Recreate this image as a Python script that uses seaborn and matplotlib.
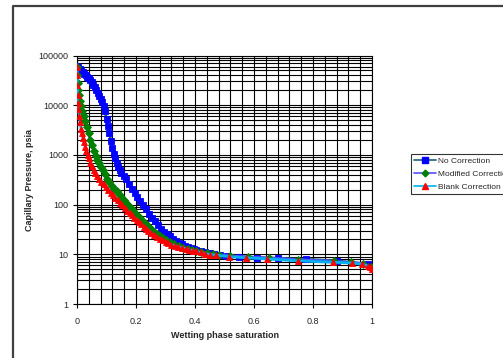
import numpy as np
import pandas as pd
import matplotlib
matplotlib.use("Agg")
import matplotlib.pyplot as plt
from matplotlib.lines import Line2D
from matplotlib.ticker import MultipleLocator, LogLocator, FixedLocator, NullFormatter
import seaborn as sns

# ---------------- data ----------------
no_corr_x = [0.000, 0.005, 0.010, 0.015, 0.020, 0.025, 0.030, 0.035, 0.040, 0.045,
             0.050, 0.055, 0.060, 0.065, 0.070, 0.075, 0.080, 0.085, 0.090, 0.095,
             0.100, 0.105, 0.110, 0.115, 0.120, 0.125, 0.130, 0.135, 0.140, 0.145,
             0.150, 0.158, 0.165, 0.175, 0.185, 0.195, 0.205, 0.215, 0.225, 0.235,
             0.245, 0.255, 0.265, 0.275, 0.285, 0.295, 0.305, 0.315, 0.325, 0.335,
             0.345, 0.355, 0.365, 0.375, 0.385, 0.395, 0.405, 0.420, 0.435, 0.450,
             0.465, 0.485, 0.510, 0.550, 0.610, 0.680, 0.775, 0.880, 0.985]
no_corr_y = [62000, 58000, 54000, 50000, 46000, 43000, 40000, 37000, 34500, 32000,
             29000, 26000, 23000, 20000, 17500, 15500, 13500, 11500, 9500, 7500,
             5200, 3800, 2700, 1900, 1400, 1050, 850, 700, 580, 490,
             430, 370, 320, 260, 210, 175, 145, 120, 98, 80,
             66, 55, 46, 39, 33, 28.5, 25.5, 23, 20.5, 18.5,
             17, 15.8, 14.8, 14, 13.4, 12.8, 12.2, 11.6, 11.1, 10.7,
             10.3, 9.8, 9.3, 9.0, 8.6, 8.3, 7.9, 7.4, 6.3]

mod_corr_x = [0.000, 0.001, 0.002, 0.004, 0.006, 0.010, 0.014, 0.018, 0.023, 0.028,
              0.033, 0.039, 0.045, 0.051, 0.057, 0.063, 0.068, 0.074, 0.080, 0.087,
              0.094, 0.102, 0.110, 0.118, 0.126, 0.134, 0.142, 0.150, 0.158, 0.166,
              0.174, 0.182, 0.190, 0.198, 0.206, 0.214, 0.222, 0.230, 0.238, 0.246,
              0.254, 0.262, 0.272, 0.282, 0.292, 0.302, 0.316, 0.330, 0.345, 0.360,
              0.375, 0.390, 0.405, 0.420, 0.440, 0.460, 0.480, 0.520, 0.580, 0.650,
              0.750, 0.870, 0.930, 0.970, 0.995]
mod_corr_y = [60000, 40000, 28000, 20000, 16000, 12000, 9500, 7500, 6000, 4700,
              3600, 2700, 2000, 1550, 1200, 950, 800, 680, 580, 490,
              410, 330, 280, 240, 210, 185, 162, 142, 125, 110,
              97, 86, 76, 67, 60, 53, 47, 42, 38, 34,
              31, 28.5, 26, 23.5, 21.5, 19.8, 18, 16.3, 14.8, 13.7,
              12.8, 12.1, 11.5, 11.0, 10.5, 10.1, 9.8, 9.3, 8.8, 8.4,
              7.8, 7.2, 6.9, 6.5, 5.5]

blank_corr_x = [0.000, 0.000, 0.001, 0.002, 0.003, 0.005, 0.008, 0.011, 0.014, 0.017,
                0.020, 0.024, 0.028, 0.032, 0.036, 0.040, 0.045, 0.050, 0.056, 0.062,
                0.068, 0.075, 0.082, 0.090, 0.098, 0.106, 0.114, 0.122, 0.130, 0.138,
                0.146, 0.154, 0.162, 0.170, 0.178, 0.186, 0.194, 0.202, 0.210, 0.218,
                0.226, 0.234, 0.242, 0.250, 0.260, 0.270, 0.280, 0.290, 0.300, 0.310,
                0.320, 0.332, 0.344, 0.356, 0.368, 0.380, 0.392, 0.404, 0.420, 0.434,
                0.452, 0.471, 0.515, 0.573, 0.643, 0.749, 0.868, 0.931, 0.965, 0.985,
                0.993, 0.999]
blank_corr_y = [60000, 40000, 25000, 16000, 11000, 8500, 6000, 4500, 3300, 2700,
                2200, 1800, 1450, 1200, 1000, 850, 700, 590, 500, 430,
                370, 320, 290, 260, 230, 200, 175, 155, 138, 122,
                108, 96, 85, 76, 69, 62, 55, 49, 44, 40,
                36, 33, 30, 27, 24.5, 22, 20.5, 19, 17.5, 16.5,
                15.5, 14.8, 14.2, 13.6, 13.0, 12.4, 11.9, 11.4, 10.9, 10.3,
                9.9, 9.6, 9.0, 8.5, 8.1, 7.4, 6.9, 6.7, 6.3, 5.9,
                5.5, 5.0]

series_names = ["No Correction", "Modified Correction", "Blank Correction"]
x_ticks = [0, 0.2, 0.4, 0.6, 0.8, 1]
x_tick_labels = ["0", "0.2", "0.4", "0.6", "0.8", "1"]
y_ticks = [1, 10, 100, 1000, 10000, 100000]
y_tick_labels = ["1", "10", "100", "1000", "10000", "100000"]

# ---------------- styling ----------------
sns.set_style("white")
plt.rcParams["font.family"] = ["Liberation Sans", "DejaVu Sans"]

W, H = 503, 358
fig = plt.figure(figsize=(W / 100, H / 100), dpi=100)
ax = fig.add_axes([77 / W, 1 - 304 / H, (372 - 77) / W, (304 - 55.5) / H])

styles = [
    dict(line="#1a5f7a", marker="s", mfc="#0000ff", ms=4.3),
    dict(line="#5050ff", marker="D", mfc="#008000", ms=4.0),
    dict(line="#00b0f0", marker="^", mfc="#ff0000", ms=4.8),
]
datasets = [(no_corr_x, no_corr_y), (mod_corr_x, mod_corr_y), (blank_corr_x, blank_corr_y)]

for name, (xs, ys), st in zip(series_names, datasets, styles):
    df = pd.DataFrame({"x": xs, "y": ys})
    sns.lineplot(data=df, x="x", y="y", ax=ax, sort=False, estimator=None,
                 color=st["line"], lw=2.0, marker=st["marker"], markersize=st["ms"],
                 markerfacecolor=st["mfc"], markeredgecolor=st["mfc"], markeredgewidth=0.6,
                 zorder=3)

ax.set_yscale("log")
ax.set_xlim(0, 1)
ax.set_ylim(1, 100000)

ax.xaxis.set_major_locator(FixedLocator(x_ticks))
ax.set_xticklabels(x_tick_labels)
ax.xaxis.set_minor_locator(MultipleLocator(0.04))
ax.yaxis.set_major_locator(FixedLocator(y_ticks))
ax.set_yticklabels(y_tick_labels)
ax.yaxis.set_minor_locator(LogLocator(base=10, subs=np.arange(2, 10), numticks=20))
ax.yaxis.set_minor_formatter(NullFormatter())

ax.grid(which="both", color="black", lw=0.8, zorder=1)
ax.set_axisbelow(True)

ax.tick_params(axis="both", which="major", direction="out", length=3, width=0.8,
               labelsize=6.5, color="black", left=True, bottom=True)
ax.tick_params(axis="y", which="major", pad=3)
ax.tick_params(axis="x", which="major", pad=6)
ax.tick_params(axis="both", which="minor", length=0)
for sp in ax.spines.values():
    sp.set_color("black")
    sp.set_linewidth(0.8)

ax.set_xlabel("Wetting phase saturation", fontsize=6.5, fontweight="bold")
ax.set_ylabel("Capillary Pressure, psia", fontsize=6.5, fontweight="bold")
ax.yaxis.set_label_coords((30 - 77) / 295, 0.5)
ax.xaxis.set_label_coords(0.5, -(335 - 304) / 248.5)
ax.xaxis.label.set_verticalalignment("center")
ax.yaxis.label.set_verticalalignment("center")

handles = [Line2D([0], [0], color=st["line"], lw=1.2, marker=st["marker"],
                  markersize=st["ms"] * 0.85, markerfacecolor=st["mfc"], markeredgecolor=st["mfc"])
           for st in styles]
leg = fig.legend(handles, series_names, loc="upper left",
                 bbox_to_anchor=(411 / W, 1 - 154 / H), fontsize=6,
                 frameon=True, fancybox=False, edgecolor="black",
                 handlelength=2.6, handletextpad=0.3, borderpad=0.4,
                 labelspacing=0.6, borderaxespad=0)
leg.get_frame().set_linewidth(0.8)

# outer chart-area border (top and left visible)
fig.add_artist(Line2D([13 / W, 13 / W, 1.0], [0.0, 1 - 5.5 / H, 1 - 5.5 / H],
                      transform=fig.transFigure, color="#404040", lw=1.6))

fig.savefig("out.png", dpi=100)
